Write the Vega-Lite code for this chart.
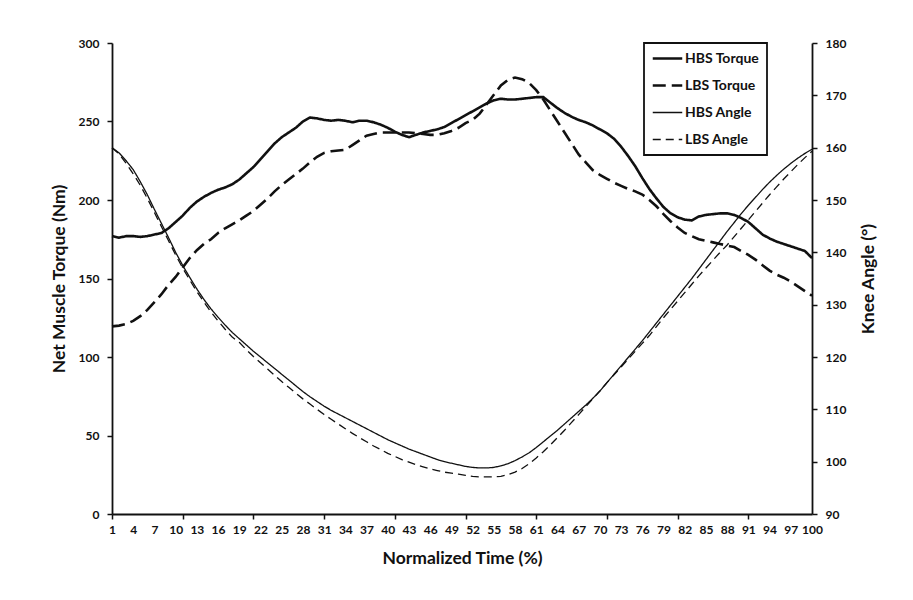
{
"$schema": "https://vega.github.io/schema/vega-lite/v6.json",
"width": 700,
"height": 471,
"autosize": {"type": "none"},
"padding": {"left": 112, "top": 43, "right": 101, "bottom": 86},
"background": "white",
"data": {"values": [
{"t":1,"ht":177,"lt":119.5,"ha":160,"la":160},
{"t":2,"ht":176,"lt":120,"ha":159,"la":158.8},
{"t":3,"ht":177,"lt":121,"ha":157.5,"la":157},
{"t":4,"ht":177,"lt":123,"ha":155.8,"la":155},
{"t":5,"ht":176.5,"lt":126,"ha":153.5,"la":152.8},
{"t":6,"ht":177,"lt":130,"ha":151,"la":150.3},
{"t":7,"ht":178,"lt":135,"ha":148.2,"la":147.6},
{"t":8,"ht":179,"lt":140,"ha":145.5,"la":144.9},
{"t":9,"ht":182,"lt":146,"ha":142.8,"la":142.2},
{"t":10,"ht":186,"lt":151,"ha":140,"la":139.5},
{"t":11,"ht":190,"lt":157,"ha":137.5,"la":137},
{"t":12,"ht":195,"lt":163,"ha":135.2,"la":134.7},
{"t":13,"ht":199,"lt":168,"ha":133,"la":132.5},
{"t":14,"ht":202,"lt":172,"ha":131,"la":130.5},
{"t":15,"ht":204.5,"lt":175,"ha":129.2,"la":128.6},
{"t":16,"ht":206.5,"lt":179,"ha":127.6,"la":126.9},
{"t":17,"ht":208,"lt":182,"ha":126.1,"la":125.3},
{"t":18,"ht":210,"lt":184.5,"ha":124.7,"la":123.8},
{"t":19,"ht":213,"lt":187,"ha":123.5,"la":122.8},
{"t":20,"ht":217,"lt":190,"ha":122.3,"la":121.4},
{"t":21,"ht":221,"lt":193,"ha":121.1,"la":120.1},
{"t":22,"ht":226,"lt":197,"ha":120,"la":118.9},
{"t":23,"ht":231,"lt":201,"ha":118.9,"la":117.7},
{"t":24,"ht":236,"lt":205.5,"ha":117.8,"la":116.5},
{"t":25,"ht":240,"lt":209.5,"ha":116.7,"la":115.3},
{"t":26,"ht":243,"lt":213,"ha":115.6,"la":114.2},
{"t":27,"ht":246,"lt":216.5,"ha":114.5,"la":113.1},
{"t":28,"ht":250,"lt":220,"ha":113.4,"la":112},
{"t":29,"ht":252.5,"lt":224,"ha":112.4,"la":111},
{"t":30,"ht":252,"lt":227.5,"ha":111.5,"la":110},
{"t":31,"ht":251,"lt":230,"ha":110.6,"la":109},
{"t":32,"ht":250.5,"lt":231,"ha":109.8,"la":108.1},
{"t":33,"ht":251,"lt":231.5,"ha":109.1,"la":107.2},
{"t":34,"ht":250.5,"lt":232,"ha":108.4,"la":106.3},
{"t":35,"ht":249.5,"lt":235,"ha":107.7,"la":105.4},
{"t":36,"ht":250.5,"lt":238,"ha":107,"la":104.6},
{"t":37,"ht":250.5,"lt":241,"ha":106.3,"la":103.8},
{"t":38,"ht":249.5,"lt":242,"ha":105.6,"la":103},
{"t":39,"ht":248,"lt":243,"ha":104.9,"la":102.3},
{"t":40,"ht":246,"lt":243,"ha":104.2,"la":101.6},
{"t":41,"ht":243.5,"lt":243,"ha":103.6,"la":101},
{"t":42,"ht":241.5,"lt":243,"ha":103,"la":100.4},
{"t":43,"ht":240,"lt":243,"ha":102.4,"la":99.9},
{"t":44,"ht":241.5,"lt":242.5,"ha":101.9,"la":99.4},
{"t":45,"ht":243,"lt":242,"ha":101.4,"la":99},
{"t":46,"ht":244,"lt":241.5,"ha":100.9,"la":98.6},
{"t":47,"ht":245,"lt":241.5,"ha":100.4,"la":98.3},
{"t":48,"ht":246.5,"lt":242.5,"ha":100,"la":98},
{"t":49,"ht":249,"lt":244,"ha":99.7,"la":97.8},
{"t":50,"ht":251.5,"lt":246,"ha":99.4,"la":97.6},
{"t":51,"ht":254,"lt":249,"ha":99.1,"la":97.4},
{"t":52,"ht":256.5,"lt":251,"ha":98.9,"la":97.2},
{"t":53,"ht":259,"lt":255,"ha":98.8,"la":97.1},
{"t":54,"ht":261.5,"lt":261,"ha":98.8,"la":97.1},
{"t":55,"ht":263.5,"lt":267,"ha":98.9,"la":97.1},
{"t":56,"ht":264.5,"lt":273,"ha":99.2,"la":97.2},
{"t":57,"ht":264,"lt":276.5,"ha":99.6,"la":97.5},
{"t":58,"ht":264,"lt":278,"ha":100.2,"la":98},
{"t":59,"ht":264.5,"lt":277,"ha":100.9,"la":98.7},
{"t":60,"ht":265,"lt":274.5,"ha":101.7,"la":99.6},
{"t":61,"ht":265.5,"lt":270,"ha":102.7,"la":100.7},
{"t":62,"ht":265.5,"lt":264,"ha":103.8,"la":101.9},
{"t":63,"ht":262,"lt":257,"ha":104.9,"la":103.2},
{"t":64,"ht":258.5,"lt":250,"ha":106,"la":104.6},
{"t":65,"ht":255.5,"lt":243,"ha":107.2,"la":106},
{"t":66,"ht":253,"lt":236,"ha":108.4,"la":107.5},
{"t":67,"ht":251,"lt":229,"ha":109.6,"la":109},
{"t":68,"ht":249.5,"lt":224,"ha":110.8,"la":110.5},
{"t":69,"ht":247.5,"lt":219,"ha":112.1,"la":112},
{"t":70,"ht":245,"lt":216,"ha":113.5,"la":113.5},
{"t":71,"ht":242.5,"lt":213.5,"ha":115.1,"la":115.1},
{"t":72,"ht":239,"lt":211,"ha":116.7,"la":116.6},
{"t":73,"ht":234,"lt":209,"ha":118.3,"la":118.1},
{"t":74,"ht":228,"lt":207,"ha":119.9,"la":119.6},
{"t":75,"ht":221.5,"lt":205.5,"ha":121.5,"la":121.1},
{"t":76,"ht":214,"lt":203.5,"ha":123.1,"la":122.6},
{"t":77,"ht":207,"lt":200,"ha":124.8,"la":124.1},
{"t":78,"ht":201,"lt":196,"ha":126.5,"la":125.8},
{"t":79,"ht":195.5,"lt":191,"ha":128.2,"la":127.5},
{"t":80,"ht":191.5,"lt":186.5,"ha":129.9,"la":129.1},
{"t":81,"ht":189,"lt":182.5,"ha":131.6,"la":130.7},
{"t":82,"ht":187.5,"lt":179,"ha":133.3,"la":132.3},
{"t":83,"ht":187,"lt":177,"ha":135,"la":133.9},
{"t":84,"ht":189.5,"lt":175,"ha":136.8,"la":135.5},
{"t":85,"ht":190.5,"lt":174,"ha":138.6,"la":137},
{"t":86,"ht":191,"lt":173,"ha":140.4,"la":138.5},
{"t":87,"ht":191.5,"lt":172,"ha":142.2,"la":140},
{"t":88,"ht":191.5,"lt":171,"ha":144,"la":141.4},
{"t":89,"ht":190.5,"lt":170,"ha":145.7,"la":143},
{"t":90,"ht":188.5,"lt":167.5,"ha":147.4,"la":144.6},
{"t":91,"ht":186,"lt":165,"ha":149,"la":146.2},
{"t":92,"ht":182,"lt":162,"ha":150.5,"la":147.8},
{"t":93,"ht":178,"lt":158.5,"ha":152,"la":149.4},
{"t":94,"ht":175.5,"lt":155,"ha":153.4,"la":151},
{"t":95,"ht":173.5,"lt":152.5,"ha":154.7,"la":152.5},
{"t":96,"ht":172,"lt":150.5,"ha":155.9,"la":154},
{"t":97,"ht":170.5,"lt":148,"ha":157,"la":155.4},
{"t":98,"ht":169,"lt":145,"ha":158,"la":156.8},
{"t":99,"ht":167.5,"lt":142,"ha":158.9,"la":158.1},
{"t":100,"ht":163,"lt":139,"ha":159.7,"la":159.3}
]},
"config": {
  "view": {"stroke": null},
  "font": "Lato",
  "axis": {
    "grid": false,
    "domainColor": "#111111",
    "domainWidth": 1.8,
    "tickColor": "#111111",
    "tickWidth": 1.5,
    "tickSize": 5,
    "labelColor": "#111111",
    "labelFont": "Lato",
    "labelFontWeight": "bold",
    "labelFontSize": 12,
    "titleColor": "#111111",
    "titleFont": "Lato",
    "titleFontWeight": "bold",
    "titleFontSize": 17.5
  },
  "legend": {
    "orient": "none",
    "legendX": 532,
    "legendY": 0,
    "strokeColor": "#111111",
    "strokeWidth": 1.8,
    "fillColor": "white",
    "padding": 7,
    "rowPadding": 10,
    "clipHeight": 17,
    "labelFont": "Lato",
    "labelFontWeight": "bold",
    "labelFontSize": 14,
    "labelColor": "#111111",
    "labelOffset": 1,
    "symbolType": "stroke",
    "symbolSize": 870,
    "symbolStrokeColor": "#111111",
    "title": null
  }
},
"layer": [
  {
    "transform": [{"fold": ["ht", "lt"], "as": ["series", "value"]}],
    "mark": {"type": "line", "strokeCap": "butt", "color": "#111111"},
    "encoding": {
      "x": {"field": "t", "type": "quantitative", "scale": {"domain": [1, 100], "nice": false, "zero": false},
        "axis": {"orient": "bottom", "title": "Normalized Time (%)", "values": [1,4,7,10,13,16,19,22,25,28,31,34,37,40,43,46,49,52,55,58,61,64,67,70,73,76,79,82,85,88,91,94,97,100], "ticks": false, "labelPadding": 10, "labelOverlap": false, "labelFlush": false, "labelBound": false, "titlePadding": 14}},
      "y": {"field": "value", "type": "quantitative", "scale": {"domain": [0, 300], "nice": false},
        "axis": {"orient": "left", "title": "Net Muscle Torque (Nm)", "values": [0,50,100,150,200,250,300], "labelPadding": 8, "titlePadding": 10}},
      "strokeDash": {"field": "series", "type": "ordinal", "scale": {"domain": ["ht", "lt", "ha", "la"], "range": [[1, 0], [13, 6], [1, 0], [8, 5]]},
        "legend": {"labelExpr": "{'ht':'HBS Torque','lt':'LBS Torque','ha':'HBS Angle','la':'LBS Angle'}[datum.label]"}},
      "strokeWidth": {"field": "series", "type": "ordinal", "scale": {"type": "ordinal", "domain": ["ht", "lt", "ha", "la"], "range": [2.6, 2.6, 1.3, 1.3]},
        "legend": {"labelExpr": "{'ht':'HBS Torque','lt':'LBS Torque','ha':'HBS Angle','la':'LBS Angle'}[datum.label]"}}
    }
  },
  {
    "transform": [{"fold": ["ha", "la"], "as": ["series", "value"]}],
    "mark": {"type": "line", "strokeCap": "butt", "color": "#111111"},
    "encoding": {
      "x": {"field": "t", "type": "quantitative", "scale": {"domain": [1, 100], "nice": false, "zero": false},
        "axis": {"orient": "bottom", "title": null, "values": [1,11,21,31,41,51,61,71,81,91], "labels": false, "ticks": true, "domain": false}},
      "y": {"field": "value", "type": "quantitative", "scale": {"domain": [90, 180], "nice": false, "zero": false},
        "axis": {"orient": "right", "title": "Knee Angle (°)", "titleAngle": 270, "titleBaseline": "top", "values": [90,100,110,120,130,140,150,160,170,180], "labelPadding": 8, "titlePadding": 14}},
      "strokeDash": {"field": "series", "type": "ordinal", "scale": {"domain": ["ht", "lt", "ha", "la"], "range": [[1, 0], [13, 6], [1, 0], [8, 5]]},
        "legend": {"labelExpr": "{'ht':'HBS Torque','lt':'LBS Torque','ha':'HBS Angle','la':'LBS Angle'}[datum.label]"}},
      "strokeWidth": {"field": "series", "type": "ordinal", "scale": {"type": "ordinal", "domain": ["ht", "lt", "ha", "la"], "range": [2.6, 2.6, 1.3, 1.3]},
        "legend": {"labelExpr": "{'ht':'HBS Torque','lt':'LBS Torque','ha':'HBS Angle','la':'LBS Angle'}[datum.label]"}}
    }
  }
],
"resolve": {"scale": {"y": "independent"}, "axis": {"x": "independent"}}
}
